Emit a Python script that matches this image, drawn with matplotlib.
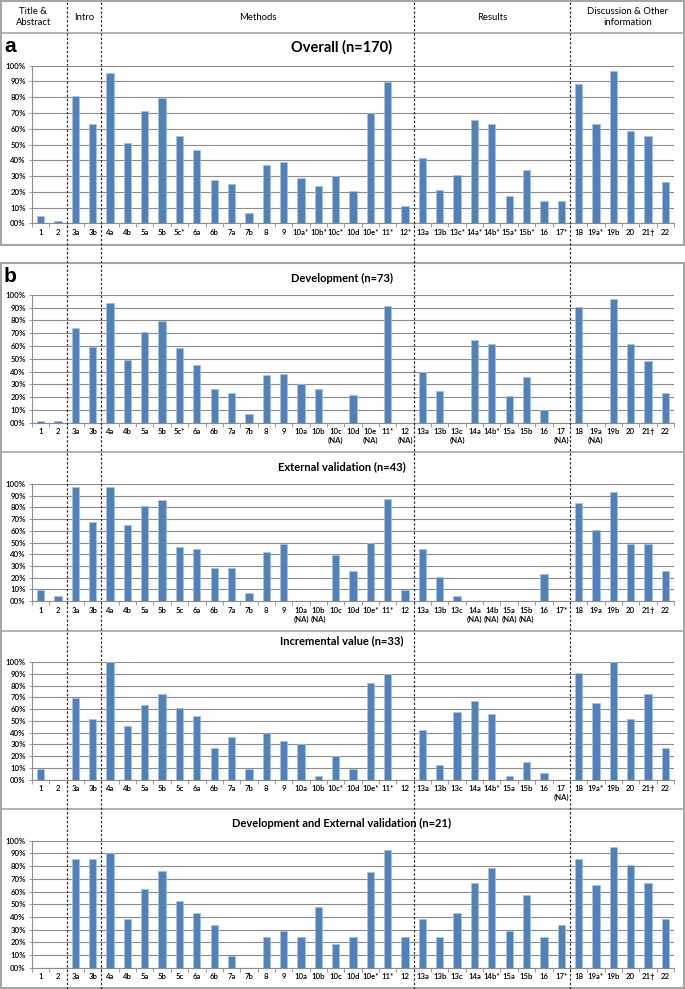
import numpy as np
import matplotlib.pyplot as plt
from matplotlib.lines import Line2D
from matplotlib.patches import Rectangle

plt.rcParams['font.family'] = ['Lato', 'DejaVu Sans']

# TRIPOD items, grouped by report section
items = ['1', '2', '3a', '3b', '4a', '4b', '5a', '5b', '5c', '6a', '6b', '7a', '7b',
         '8', '9', '10a', '10b', '10c', '10d', '10e', '11', '12',
         '13a', '13b', '13c', '14a', '14b', '15a', '15b', '16', '17',
         '18', '19a', '19b', '20', '21', '22']
sections = ['Title &\nAbstract', 'Intro', 'Methods', 'Results', 'Discussion & Other\ninformation']
section_sizes = [2, 2, 18, 9, 6]

# tick labels for each panel
overall_labels = ['1', '2', '3a', '3b', '4a', '4b', '5a', '5b', '5c*', '6a', '6b', '7a', '7b',
                  '8', '9', '10a*', '10b*', '10c*', '10d', '10e*', '11*', '12*',
                  '13a', '13b', '13c*', '14a*', '14b*', '15a*', '15b*', '16', '17*',
                  '18', '19a*', '19b', '20', '21†', '22']
dev_labels = ['1', '2', '3a', '3b', '4a', '4b', '5a', '5b', '5c*', '6a', '6b', '7a', '7b',
              '8', '9', '10a', '10b', '10c\n(NA)', '10d', '10e\n(NA)', '11*', '12\n(NA)',
              '13a', '13b', '13c\n(NA)', '14a', '14b*', '15a', '15b', '16', '17\n(NA)',
              '18', '19a\n(NA)', '19b', '20', '21†', '22']
ext_labels = ['1', '2', '3a', '3b', '4a', '4b', '5a', '5b', '5c', '6a', '6b', '7a', '7b',
              '8', '9', '10a\n(NA)', '10b\n(NA)', '10c', '10d', '10e*', '11*', '12',
              '13a', '13b', '13c', '14a\n(NA)', '14b\n(NA)', '15a\n(NA)', '15b\n(NA)', '16', '17*',
              '18', '19a', '19b', '20', '21†', '22']
inc_labels = ['1', '2', '3a', '3b', '4a', '4b', '5a', '5b', '5c', '6a', '6b', '7a', '7b',
              '8', '9', '10a', '10b', '10c*', '10d', '10e*', '11*', '12',
              '13a', '13b', '13c', '14a', '14b*', '15a', '15b', '16', '17\n(NA)',
              '18', '19a*', '19b', '20', '21†', '22']
devext_labels = ['1', '2', '3a', '3b', '4a', '4b', '5a', '5b', '5c', '6a', '6b', '7a', '7b',
                 '8', '9', '10a', '10b', '10c', '10d', '10e*', '11*', '12',
                 '13a', '13b', '13c', '14a', '14b*', '15a', '15b', '16', '17*',
                 '18', '19a*', '19b', '20', '21†', '22']

# adherence (%) per item
overall = [4.7, 1.7, 80.8, 62.8, 95.6, 51.2, 71.2, 79.7, 55.2, 46.5, 27.5, 25.2, 6.6,
           37.0, 38.7, 29.0, 23.7, 30.0, 20.3, 69.8, 89.9, 11.0,
           41.2, 20.9, 30.9, 65.5, 62.8, 17.3, 33.8, 14.2, 14.2,
           88.4, 62.8, 96.6, 58.8, 55.4, 26.4]
development = [1.4, 1.4, 74.0, 58.9, 93.2, 49.3, 71.2, 79.5, 58.3, 45.2, 26.0, 23.3, 6.8,
               37.0, 38.4, 30.1, 26.0, 0, 21.9, 0, 91.1, 0,
               39.7, 24.7, 0, 64.4, 61.6, 20.5, 35.6, 9.6, 0,
               90.4, 0, 97.0, 61.6, 47.9, 23.3]
external = [9.3, 4.7, 97.7, 67.4, 97.7, 65.1, 81.4, 86.0, 46.5, 44.2, 27.9, 27.9, 7.0,
            41.9, 48.8, 0, 0, 39.5, 25.6, 50.0, 86.8, 9.3,
            44.2, 20.9, 4.7, 0, 0, 0, 0, 23.3, 0,
            83.7, 60.5, 93.0, 48.8, 48.8, 25.6]
incremental = [9.1, 0, 69.7, 51.5, 100.0, 45.5, 63.6, 72.7, 60.6, 54.5, 27.3, 36.4, 9.1,
               39.4, 33.3, 30.3, 3.0, 20.0, 9.1, 81.8, 90.0, 0,
               42.4, 12.1, 57.6, 66.7, 56.1, 3.0, 15.2, 6.1, 0,
               90.9, 65.5, 100.0, 51.5, 72.7, 27.3]
dev_ext = [0, 0, 85.7, 85.7, 90.5, 38.1, 61.9, 76.2, 52.4, 42.9, 33.3, 9.5, 0,
           23.8, 28.6, 23.8, 47.6, 19.0, 23.8, 75.3, 92.6, 23.8,
           38.1, 23.8, 42.9, 66.7, 78.6, 28.6, 57.1, 23.8, 33.3,
           85.7, 65.0, 95.2, 81.0, 66.7, 38.1]

W, H = 685, 989
fig = plt.figure(figsize=(W / 100, H / 100), dpi=100)

AX_L, AX_R = 32, 674
step = (AX_R - AX_L) / len(items)
gray = '#8c8c8c'
bar_blue = '#4f81bd'


def fx(px):
    return px / W


def fy(py):
    return 1 - py / H


# title, labels, values, axis top px, axis bottom px, title y px, title size
panels = [
    ('Overall (n=170)', overall_labels, overall, 65.7, 223.3, 47, 10.5),
    ('Development (n=73)', dev_labels, development, 294.7, 422.7, 278, 8),
    ('External validation (n=43)', ext_labels, external, 484, 601, 467, 8),
    ('Incremental value (n=33)', inc_labels, incremental, 662, 779.7, 641, 8),
    ('Development and External validation (n=21)', devext_labels, dev_ext, 840.7, 967.7, 823, 8),
]

x = np.arange(len(items))
for title, labels, vals, top, bottom, ty, tsize in panels:
    ax = fig.add_axes([fx(AX_L), fy(bottom), fx(AX_R - AX_L), (bottom - top) / H])
    ax.bar(x, vals, width=0.42, color=bar_blue, edgecolor='#a9c1e0', linewidth=0.5, zorder=3)
    ax.set_xlim(-0.5, len(items) - 0.5)
    ax.set_ylim(0, 100)
    ax.set_yticks(range(0, 101, 10))
    ax.set_yticklabels(['%02d%%' % v for v in range(0, 101, 10)], fontsize=5.6,
                       fontweight='semibold')
    ax.set_xticks(x)
    ax.set_xticklabels(labels, fontsize=5.6, linespacing=1.3, va='top', fontweight='semibold')
    ax.set_xticks(np.arange(-0.5, len(items), 1), minor=True)
    ax.tick_params(axis='x', which='major', length=0, pad=4)
    ax.tick_params(axis='x', which='minor', length=3, color=gray, width=0.6)
    ax.tick_params(axis='y', length=2.5, color=gray, width=0.6, pad=2)
    ax.grid(axis='y', color=gray, linewidth=0.8, zorder=0)
    for s in ['top', 'right']:
        ax.spines[s].set_visible(False)
    for s in ['left', 'bottom']:
        ax.spines[s].set_color(gray)
        ax.spines[s].set_linewidth(0.8)
    fig.text(fx(342), fy(ty), title, ha='center', va='center', fontsize=tsize, fontweight='bold')

fig.text(fx(4), fy(46), 'a', ha='left', va='center', fontsize=15, fontweight='bold',
         family='Liberation Sans')
fig.text(fx(4), fy(277), 'b', ha='left', va='center', fontsize=15, fontweight='bold',
         family='Liberation Sans')

# frames and separators
frame = '#a6a6a6'
fig.add_artist(Rectangle((fx(1), fy(245)), fx(683), (245 - 1) / H, transform=fig.transFigure,
                         fill=False, edgecolor=frame, linewidth=1.5))
fig.add_artist(Rectangle((fx(1), fy(988)), fx(683), (988 - 263) / H, transform=fig.transFigure,
                         fill=False, edgecolor=frame, linewidth=1.5))
for sy in [33, 452, 631, 809]:
    fig.add_artist(Line2D([fx(1), fx(684)], [fy(sy), fy(sy)], transform=fig.transFigure,
                          color=frame, linewidth=1.2))

# section boundaries (dashed) and header labels
bounds = np.cumsum(section_sizes)[:-1]
bounds_px = [AX_L + b * step for b in bounds]
for bx in bounds_px:
    fig.add_artist(Line2D([fx(bx), fx(bx)], [0, 1], transform=fig.transFigure,
                          color='#333333', linewidth=0.9, linestyle=(0, (2, 1.5))))
edges = [0] + bounds_px + [W]
for name, l, r in zip(sections, edges[:-1], edges[1:]):
    fig.text(fx((l + r) / 2), fy(17), name, ha='center', va='center', fontsize=6.8,
             linespacing=1.3)

fig.savefig('out.png', dpi=100)
